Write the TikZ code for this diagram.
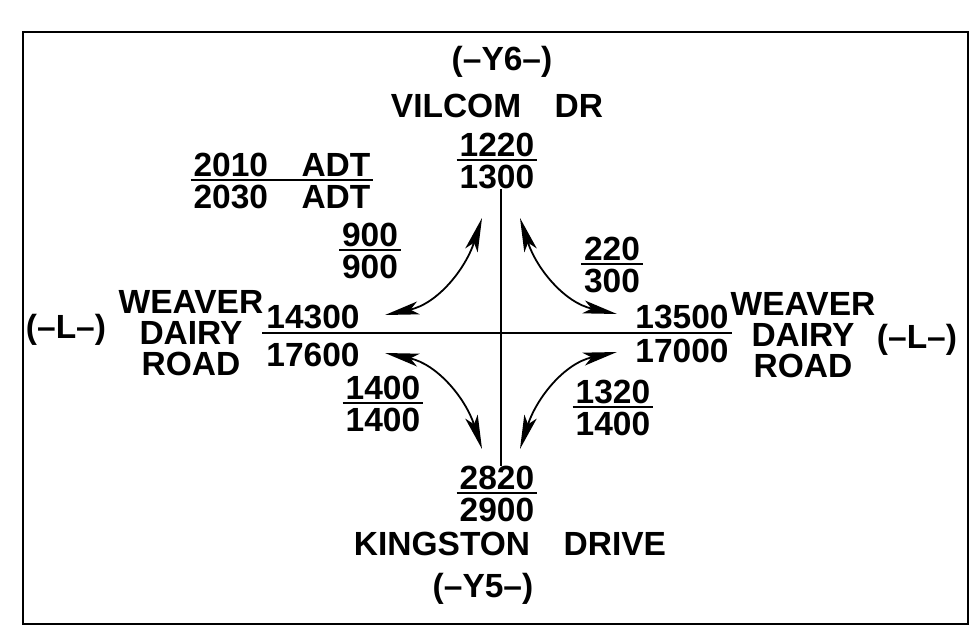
\documentclass[tikz,border=0pt]{standalone}
\usepackage{fontspec}
\setmainfont{Liberation Sans}
\usetikzlibrary{arrows.meta,positioning}

% two counts over a rule
\newcommand{\flow}[2]{{\renewcommand{\arraystretch}{0.1}%
  \setlength{\tabcolsep}{3pt}\setlength{\arrayrulewidth}{1.6pt}%
  \begin{tabular}{c}\rule[-3pt]{0pt}{3pt}#1\\\hline\rule{0pt}{27.5pt}#2\end{tabular}}}

\begin{document}
\begin{tikzpicture}[
    x=1pt, y=-1pt,
    node distance=12pt,
    font=\fontsize{33.5}{31}\selectfont\bfseries,
    volume/.style={
        inner sep=0pt
    },
    roadname/.style={
        align=center,
        inner sep=0pt
    },
    road/.style={
        draw,
        line width=1.5pt
    },
    turn/.style={
        draw,
        line width=1.8pt,
        >={Stealth[length=34pt, width=13pt, inset=8pt]},
        <->
    },
    outerframe/.style={
        draw,
        line width=2pt
    }
]
    \useasboundingbox (0,0) rectangle (980,640);
    \draw[outerframe] (23,32) rectangle (968,624);

    % --- North leg ---
    \node[volume, anchor=base] (y6tag) at (502,70) {(--Y6--)};
    \node[volume, anchor=base] (vilcom) at (497,117) {VILCOM\quad DR};
    \node[volume] (y6vol) at (497,161) {\flow{1220}{1300}};

    \node[volume] (adt) at (282,181) {\flow{2010\quad ADT}{2030\quad ADT}};

    % --- West and east legs ---
    \node[volume, anchor=base] (wtag) at (66,338) {(--L--)};
    \node[roadname] (wweaver) at (191,333) {WEAVER\\DAIRY\\ROAD};
    \node[volume, anchor=base] (w14300) at (313,328) {14300};
    \node[volume, below=14pt of w14300] (w17600) {17600};

    \node[volume, anchor=base] (e13500) at (682,328) {13500};
    \node[volume, below=10pt of e13500] (e17000) {17000};
    \node[roadname] (eweaver) at (803,335) {WEAVER\\DAIRY\\ROAD};
    \node[volume, anchor=base] (etag) at (917,348) {(--L--)};

    % --- Turning volumes ---
    \node[volume] (nwvol) at (370,251) {\flow{900}{900}};
    \node[volume] (nevol) at (612,265) {\flow{220}{300}};
    \node[volume] (swvol) at (383,404) {\flow{1400}{1400}};
    \node[volume] (sevol) at (613,408) {\flow{1320}{1400}};

    % --- South leg ---
    \node[volume] (y5vol) at (497,494) {\flow{2820}{2900}};
    \node[volume, anchor=base] (kingston) at (510,555) {KINGSTON\quad DRIVE};
    \node[volume, anchor=base] (y5tag) at (483,597) {(--Y5--)};

    % --- Roads ---
    \coordinate (cross) at (501,333);
    \coordinate (roadW) at (262,333);
    \coordinate (roadE) at (732,333);
    \draw[road] (roadW) -- (roadE);
    \draw[road] (y6vol.south -| cross) -- (y5vol.north -| cross);

    % --- Turn arrows ---
    \coordinate (nwN) at (482,218);
    \coordinate (nwW) at (385,315);
    \coordinate (neN) at (520,218);
    \coordinate (neE) at (617,314);
    \coordinate (swW) at (385,353);
    \coordinate (swS) at (482,449);
    \coordinate (seE) at (617,352);
    \coordinate (seS) at (520,449);
    \draw[turn] (nwN) to[out=-108, in=12] (nwW);
    \draw[turn] (neN) to[out=-72, in=168] (neE);
    \draw[turn] (swS) to[out=108, in=-12] (swW);
    \draw[turn] (seS) to[out=72, in=192] (seE);
\end{tikzpicture}
\end{document}
